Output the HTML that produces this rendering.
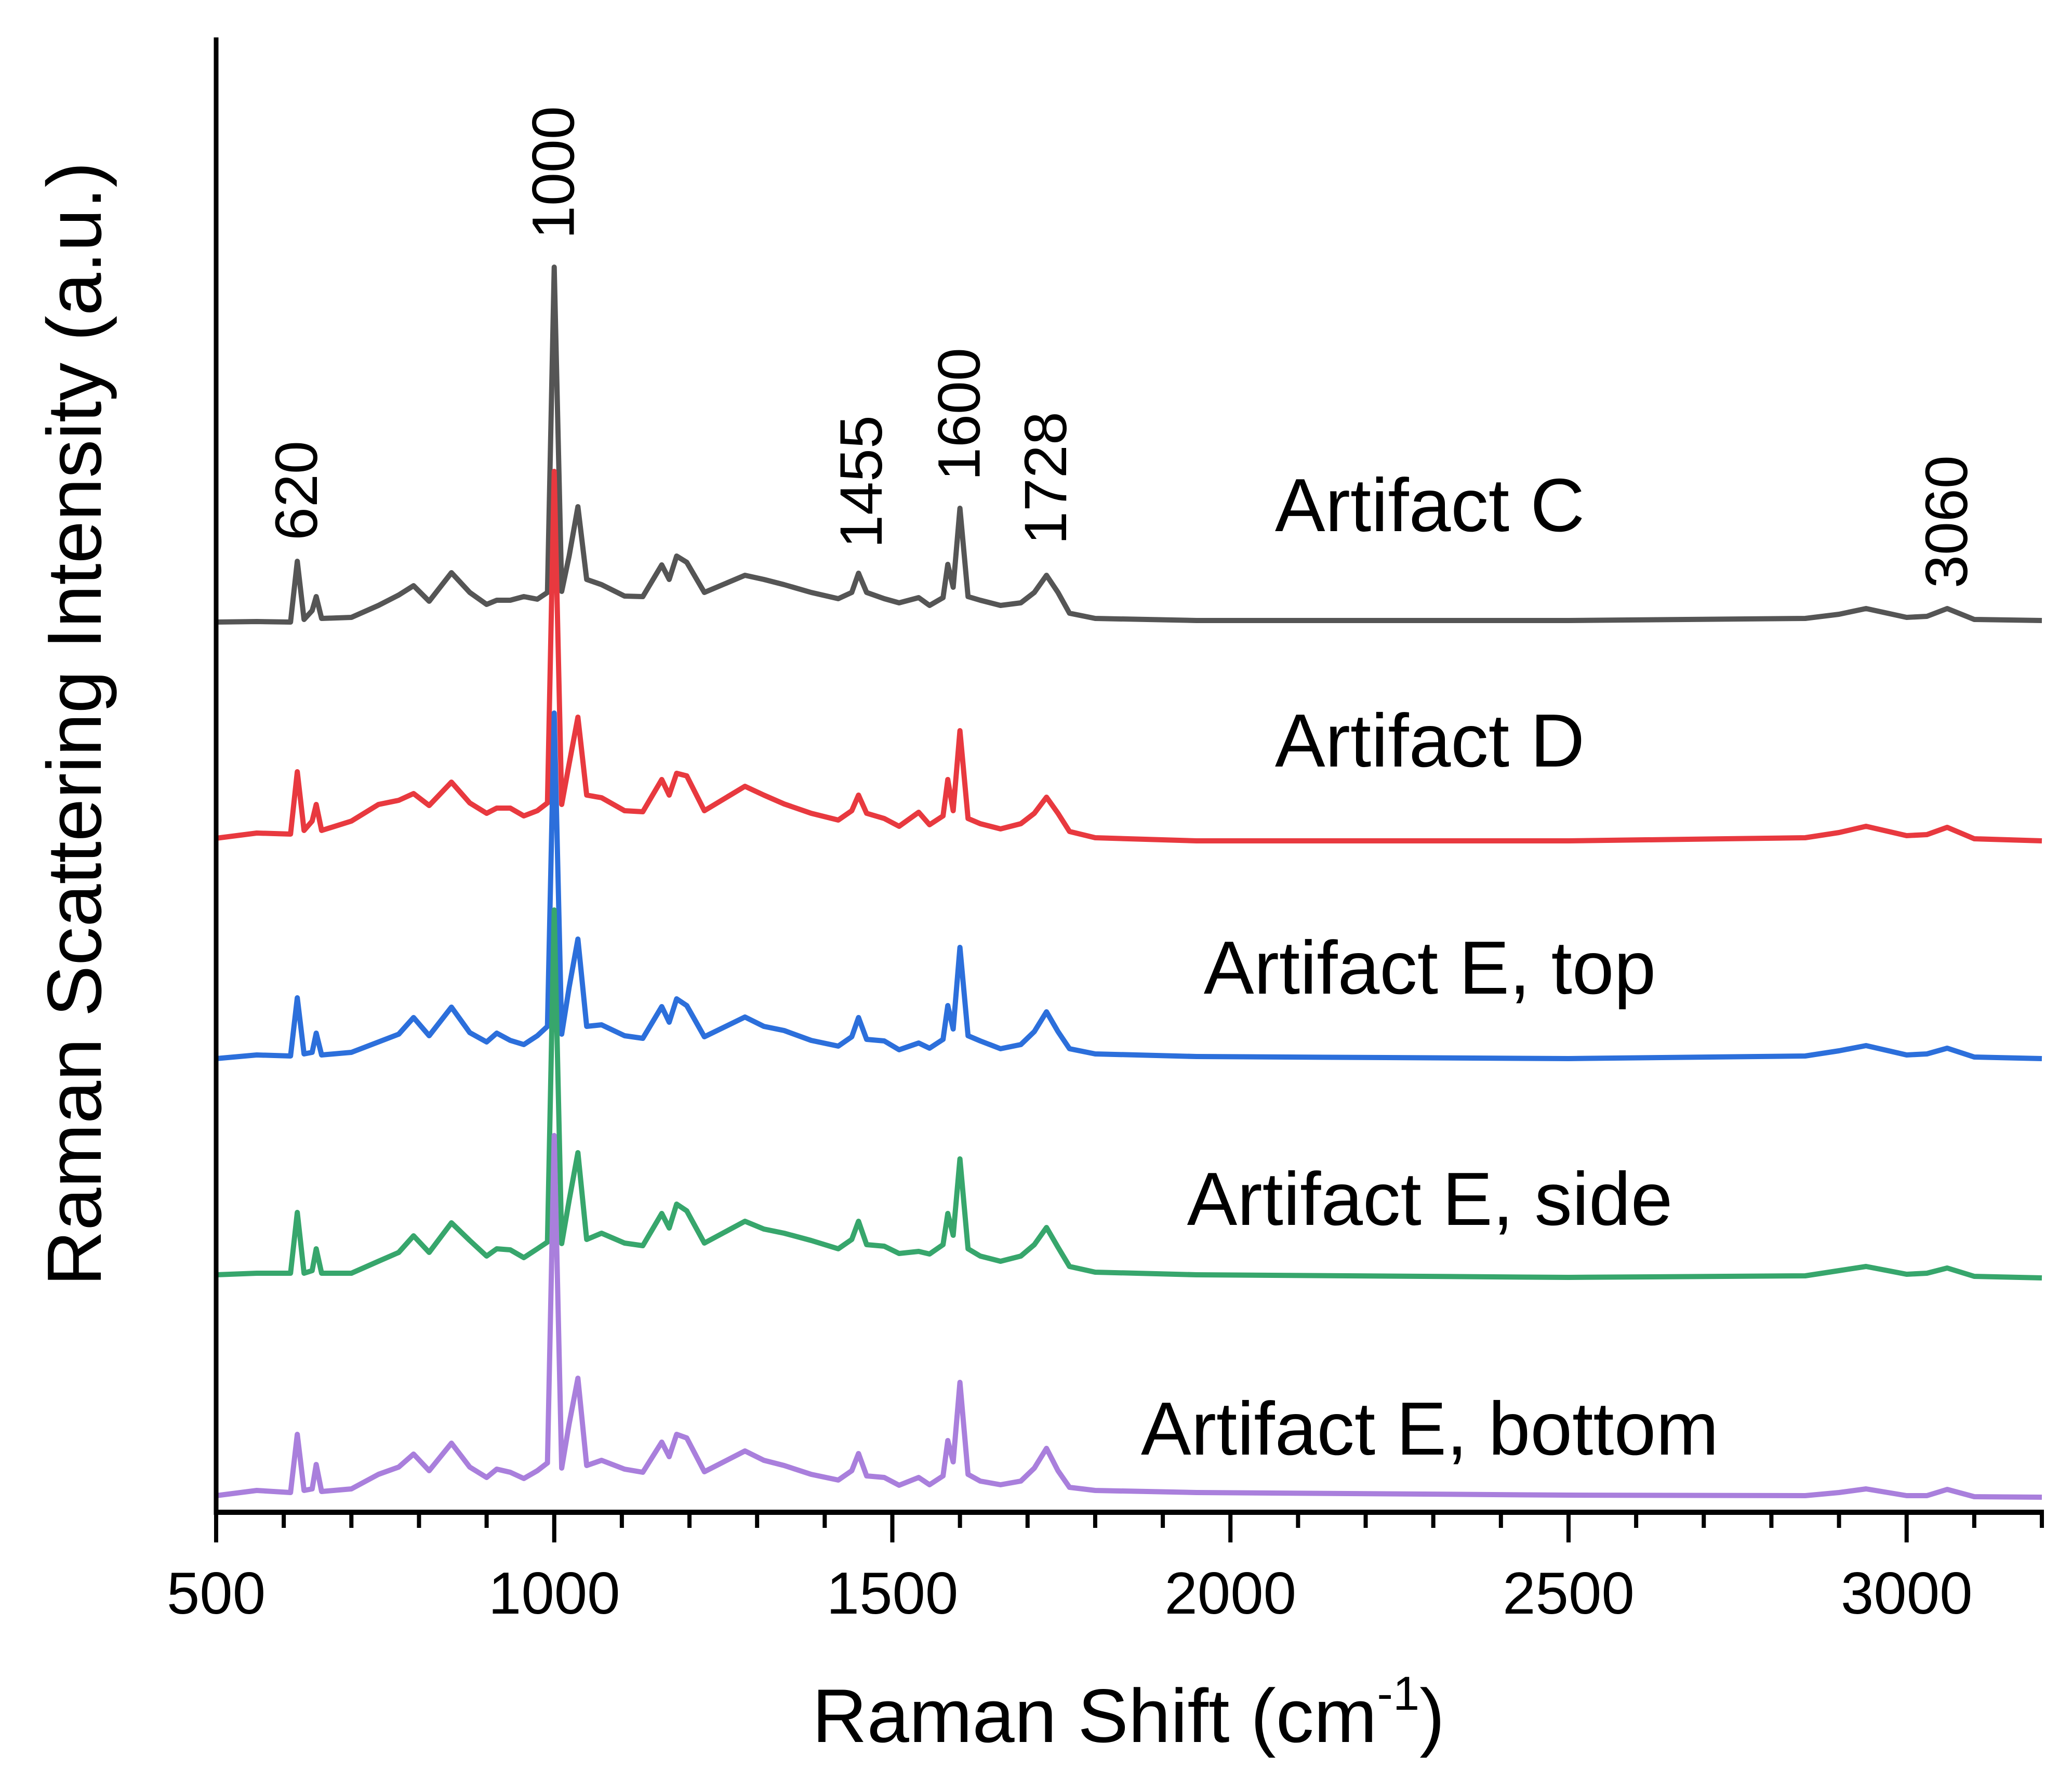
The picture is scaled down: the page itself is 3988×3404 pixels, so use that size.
<!DOCTYPE html>
<html><head><meta charset="utf-8"><style>
html,body{margin:0;padding:0;background:#fff;}
svg{display:block;}
text{font-family:"Liberation Sans",Arial,sans-serif;fill:#000;}
</style></head>
<body>
<svg id="chart" width="3988" height="3404" viewBox="0 0 3988 3404" xmlns="http://www.w3.org/2000/svg">
<rect width="3988" height="3404" fill="#fff"/>
<g id="series-layer"></g>
<g id="axes-layer"></g>
<g id="label-layer"></g>
</svg>
<script>
const wavenumbers = [500,560,610,620,630,642,648,656,700,740,770,792,815,848,875,900,915,935,955,975,990,1000,1011,1022,1035,1048,1070,1104,1131,1159,1170,1181,1196,1222,1282,1310,1340,1380,1420,1440,1450,1462,1488,1510,1539,1555,1575,1582,1590,1600,1612,1630,1660,1690,1710,1728,1745,1762,1800,1950,2500,2850,2900,2940,3000,3030,3060,3100,3200];
const artifactC = [1713,1714,1713,1830,1718,1735,1762,1720,1722,1745,1765,1783,1753,1808,1770,1747,1755,1755,1762,1757,1770,2396,1772,1840,1935,1795,1785,1763,1762,1823,1795,1840,1828,1770,1803,1795,1785,1770,1758,1770,1807,1770,1758,1750,1760,1745,1760,1824,1780,1932,1762,1755,1745,1750,1770,1803,1770,1730,1720,1716,1716,1720,1728,1739,1722,1724,1739,1718,1716];
const artifactD = [1297,1307,1305,1425,1312,1330,1362,1312,1330,1362,1370,1383,1360,1405,1365,1345,1355,1355,1340,1350,1365,2003,1362,1440,1530,1380,1375,1350,1348,1410,1380,1422,1417,1350,1397,1380,1363,1345,1332,1350,1380,1345,1335,1320,1347,1323,1340,1410,1350,1504,1335,1325,1315,1325,1345,1376,1345,1310,1298,1292,1292,1298,1308,1320,1302,1304,1318,1296,1292];
const artifactETop = [873,880,878,990,882,885,922,880,885,905,920,952,917,972,923,905,922,908,900,917,935,1538,920,1010,1103,935,938,917,912,973,943,988,975,915,953,935,927,908,897,915,952,910,907,890,903,893,910,975,930,1087,917,907,892,900,925,963,925,892,882,877,873,878,888,898,880,882,893,876,873];
const artifactESide = [457,460,460,577,460,465,507,460,460,483,500,532,500,557,523,493,507,505,490,507,520,1159,517,600,692,525,537,518,513,575,547,593,580,518,560,545,537,523,507,525,560,515,512,498,502,497,515,575,533,680,507,493,483,493,515,548,510,473,462,457,452,455,465,473,458,460,470,454,451];
const artifactEBottom = [32,42,38,150,42,45,92,40,45,73,87,112,80,133,87,67,83,77,65,80,95,725,85,170,258,90,100,83,77,135,107,150,143,78,118,100,90,73,62,80,113,70,67,52,67,53,70,138,97,250,73,60,53,60,85,123,80,48,42,38,33,32,38,45,32,32,44,30,29];
const seriesNames = ["Artifact C","Artifact D","Artifact E, top","Artifact E, side","Artifact E, bottom"];
const xTickLabels = [500,1000,1500,2000,2500,3000];
const peakLabels = [620,1000,1455,1600,1728,3060];
const peakLabelValues = [1870,2450,1855,1985,1862,1778];

const NS = "http://www.w3.org/2000/svg";
const X0 = 416, X1 = 3930, Y0 = 2910, Y1 = 72;
const xMin = 500, xMax = 3200, yMin = 0, yMax = 2838;
function xs(v){ return X0 + (v - xMin) / (xMax - xMin) * (X1 - X0); }
function ys(v){ return Y0 - (v - yMin) / (yMax - yMin) * (Y0 - Y1); }
function mk(tag, attrs, parent){ const e = document.createElementNS(NS, tag); for (const k in attrs) e.setAttribute(k, attrs[k]); parent.appendChild(e); return e; }

const seriesLayer = document.getElementById('series-layer');
const axesLayer = document.getElementById('axes-layer');
const labelLayer = document.getElementById('label-layer');

const allSeries = [artifactC, artifactD, artifactETop, artifactESide, artifactEBottom];
const colors = ["#555555","#e8393f","#2c6fdb","#37a66c","#a97fdc"];
const seriesKeys = ["artifact-c","artifact-d","artifact-e-top","artifact-e-side","artifact-e-bottom"];
allSeries.forEach((vals, i) => {
  let d = "";
  vals.forEach((v, j) => { d += (j ? "L" : "M") + xs(wavenumbers[j]).toFixed(1) + "," + ys(v).toFixed(1); });
  const p = mk('path', {d: d, fill: "none", stroke: colors[i], "stroke-width": 10, "stroke-linejoin": "round"}, seriesLayer);
  
  
});

const yAxis = mk('line', {x1: X0, y1: Y1, x2: X0, y2: Y0 + 5, stroke: "#000", "stroke-width": 9}, axesLayer);


const xAxis = mk('line', {x1: X0 - 4, y1: Y0, x2: X1 + 4, y2: Y0, stroke: "#000", "stroke-width": 10}, axesLayer);


for (let v = 500; v <= 3200; v += 100) {
  const major = v % 500 === 0;
  const t = mk('line', {x1: xs(v), y1: Y0, x2: xs(v), y2: Y0 + (major ? 58 : 30), stroke: "#000", "stroke-width": 8}, axesLayer);
  
  
}
xTickLabels.forEach(v => {
  const t = mk('text', {x: xs(v), y: 3105, "text-anchor": "middle", "font-size": 114}, axesLayer);
  t.textContent = v;
  
  
});

const xt = mk('text', {x: 2172, y: 3352, "text-anchor": "middle", "font-size": 146}, labelLayer);


xt.appendChild(document.createTextNode("Raman Shift (cm"));
const sup = mk('tspan', {"font-size": 92, dy: -62}, xt);
sup.textContent = "-1";
const close = mk('tspan', {dy: 62}, xt);
close.textContent = ")";
const yt = mk('text', {x: 0, y: 0, "text-anchor": "middle", "font-size": 148, transform: "translate(194,1393) rotate(-90)"}, labelLayer);
yt.textContent = "Raman Scattering Intensity (a.u.)";



const labelBaselines = [1022, 1475, 1912, 2357, 2799];
seriesNames.forEach((n, i) => {
  const t = mk('text', {x: 2752, y: labelBaselines[i], "text-anchor": "middle", "font-size": 145}, labelLayer);
  t.textContent = n;
  
  
});

peakLabels.forEach((p, i) => {
  const x = xs(p) + 38, y = ys(peakLabelValues[i]);
  const t = mk('text', {x: 0, y: 0, "text-anchor": "start", "font-size": 115, transform: "translate(" + x.toFixed(1) + "," + y.toFixed(1) + ") rotate(-90)"}, labelLayer);
  t.textContent = p;
  
  
});
</script>
</body></html>
